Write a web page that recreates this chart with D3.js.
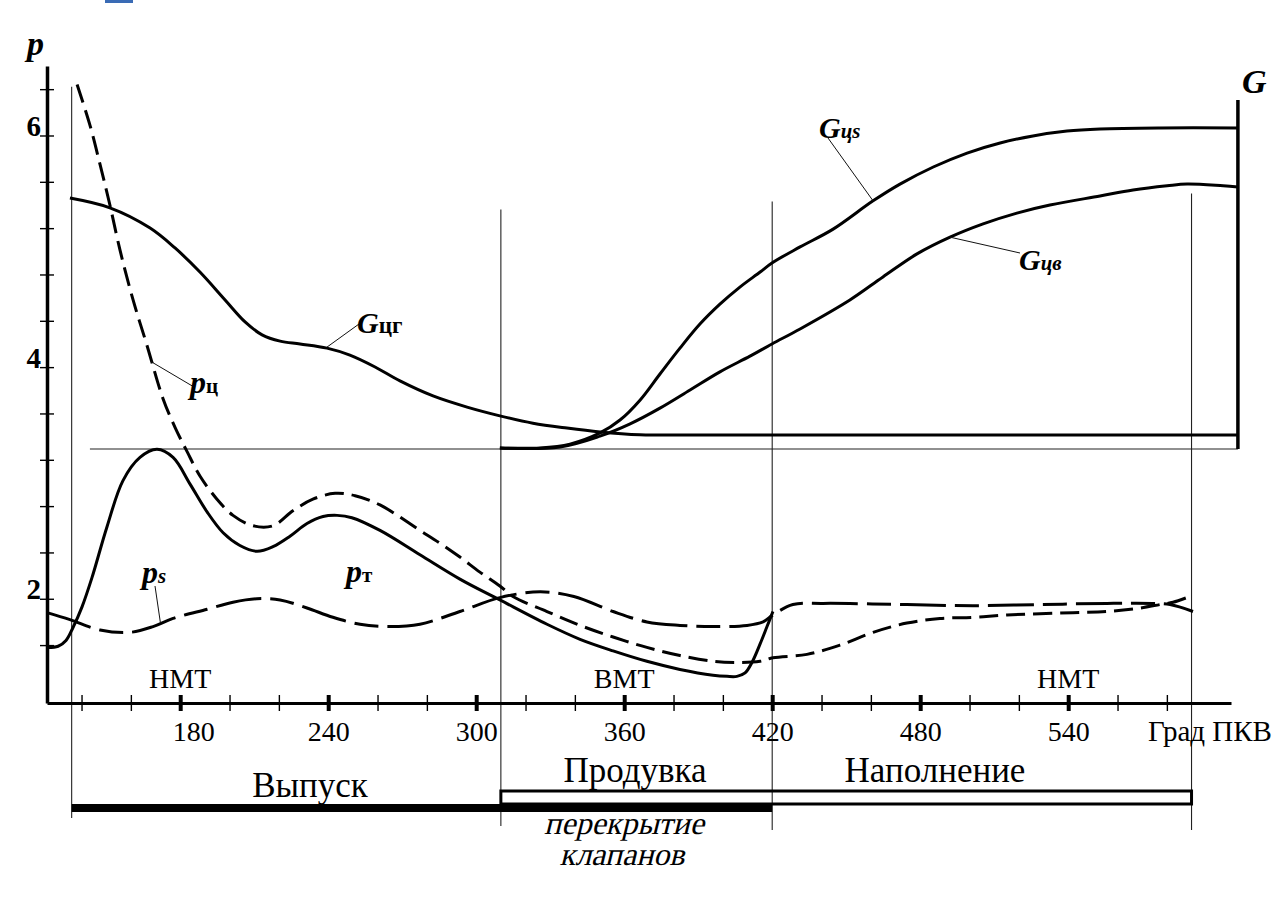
<!DOCTYPE html>
<html>
<head>
<meta charset="utf-8">
<script src="https://cdn.jsdelivr.net/npm/d3@7/dist/d3.min.js"></script>
<style>
  body { margin: 0; background: #fff; }
  svg { display: block; }
  text { font-family: "Liberation Serif", "Times New Roman", serif; fill: #000; }
</style>
</head>
<body>
<svg id="chart" width="1286" height="898"></svg>
<script>
// ---- crank angle (degrees) and pressures / flows ----
// cylinder pressure p_ц
const pCylAngle = [138.2, 143.4, 147.5, 151.5, 155.6, 160.9, 166.5, 173.0, 177.9, 182.8, 188.0, 194.9, 201.4, 209.5, 217.6, 225.7, 233.8, 242.8, 250.9, 261.0, 277.2, 285.3, 293.4, 301.5, 309.6, 314.9, 328.7, 342.1, 355.5, 369.2, 382.6, 396.0, 405.7, 415.1, 420.3, 434.1, 447.5, 460.9, 474.6, 488.0, 501.4, 515.2, 541.9, 555.7, 569.1, 577.2, 582.5, 590.6];
const pCyl      = [6.44, 6.09, 5.75, 5.40, 5.01, 4.58, 4.19, 3.73, 3.48, 3.27, 3.06, 2.86, 2.72, 2.63, 2.63, 2.76, 2.86, 2.91, 2.89, 2.81, 2.59, 2.48, 2.36, 2.23, 2.11, 2.02, 1.89, 1.77, 1.67, 1.58, 1.51, 1.46, 1.45, 1.46, 1.49, 1.52, 1.60, 1.71, 1.79, 1.83, 1.84, 1.86, 1.88, 1.89, 1.92, 1.95, 1.97, 2.03];

// exhaust manifold pressure p_т
const pExhAngle = [126.0, 130.5, 133.7, 136.5, 140.2, 144.2, 150.3, 156.8, 163.7, 170.6, 177.1, 184.0, 190.9, 197.4, 204.2, 211.1, 217.6, 224.5, 231.4, 237.9, 243.6, 249.6, 261.0, 277.2, 293.4, 309.6, 328.7, 342.1, 355.5, 369.2, 382.6, 396.0, 401.7, 405.7, 409.0, 411.8, 415.1, 417.9, 420.3];
const pExh      = [1.58, 1.59, 1.64, 1.75, 1.93, 2.18, 2.62, 3.02, 3.22, 3.29, 3.22, 2.99, 2.75, 2.57, 2.46, 2.41, 2.45, 2.54, 2.65, 2.71, 2.72, 2.70, 2.59, 2.38, 2.17, 1.99, 1.78, 1.65, 1.55, 1.46, 1.39, 1.34, 1.33, 1.33, 1.36, 1.45, 1.61, 1.76, 1.89];

// boost (intake) pressure p_s
const pBoostAngle = [126.0, 135.3, 147.5, 159.6, 169.0, 177.1, 190.9, 201.4, 211.1, 220.5, 231.4, 241.9, 252.9, 265.1, 277.2, 293.4, 309.6, 325.9, 339.6, 355.5, 369.2, 382.6, 396.0, 409.8, 416.3, 420.3, 428.4, 440.6, 474.6, 501.4, 528.6, 555.7, 574.4, 581.3, 590.6];
const pBoost      = [1.88, 1.82, 1.73, 1.71, 1.76, 1.83, 1.91, 1.97, 2.00, 1.99, 1.92, 1.84, 1.78, 1.76, 1.78, 1.89, 2.01, 2.06, 2.02, 1.89, 1.80, 1.77, 1.76, 1.77, 1.80, 1.86, 1.95, 1.96, 1.95, 1.94, 1.95, 1.96, 1.96, 1.95, 1.89];

// gas flow out of the cylinder G_цг
const gOutAngle = [135.3, 151.5, 167.8, 177.9, 188.0, 198.2, 206.3, 213.2, 220.5, 228.6, 239.5, 248.8, 259.0, 269.1, 282.5, 296.3, 309.6, 323.0, 336.8, 350.2, 366.4, 390.0, 450.0, 510.0, 570.0, 608.8];
const gOut      = [0.719, 0.691, 0.633, 0.576, 0.507, 0.427, 0.364, 0.327, 0.309, 0.301, 0.289, 0.269, 0.235, 0.195, 0.152, 0.120, 0.095, 0.074, 0.060, 0.049, 0.041, 0.040, 0.040, 0.040, 0.040, 0.040];

// charge flow into the cylinder G_цs
const gInAngle = [309.6, 325.9, 338.0, 350.2, 358.3, 366.4, 374.5, 382.6, 390.7, 398.8, 406.9, 415.1, 419.9, 431.3, 444.7, 460.9, 471.8, 485.3, 499.0, 512.4, 525.7, 539.5, 552.9, 577.2, 608.8];
const gIn      = [0.003, 0.003, 0.014, 0.046, 0.083, 0.140, 0.215, 0.289, 0.358, 0.415, 0.464, 0.507, 0.533, 0.579, 0.630, 0.711, 0.759, 0.808, 0.848, 0.877, 0.897, 0.911, 0.917, 0.920, 0.920];

// fresh air retained in the cylinder G_цв
const gAirAngle = [309.6, 334.0, 350.2, 362.4, 374.5, 386.7, 398.8, 411.0, 419.9, 431.3, 451.5, 464.9, 478.7, 492.1, 505.5, 519.2, 532.6, 552.9, 566.3, 580.1, 588.2, 602.8, 608.8];
const gAir      = [0.003, 0.006, 0.037, 0.072, 0.117, 0.169, 0.221, 0.266, 0.301, 0.344, 0.427, 0.493, 0.559, 0.607, 0.645, 0.676, 0.699, 0.725, 0.742, 0.754, 0.759, 0.754, 0.751];

// axis ticks
const xTicks = [140, 160, 180, 200, 220, 240, 260, 280, 300, 320, 340, 360, 380, 400, 420, 440, 460, 480, 500, 520, 540, 560, 580];
const xTickLabels = [180, 240, 300, 360, 420, 480, 540];
const yTicks = [1.6, 2.0, 2.4, 2.8, 3.2, 3.6, 4.0, 4.4, 4.8, 5.2, 5.6, 6.0, 6.4];
const yTickLabels = [2, 4, 6];

// valve event marks and phases
const markAngle = [136, 310, 420, 590];
const markTop   = [6.42, 5.36, 5.43, 5.50];
const deadCentres = [{ name: "НМТ", angle: 180 }, { name: "ВМТ", angle: 360 }, { name: "НМТ", angle: 540 }];
const exhaustPhase = [136, 420];
const intakePhase  = [310, 590];
const gAxisAngle = 608.8;

// ---- scales ----
const x  = d3.scaleLinear().domain([126, 606]).range([47, 1231]);
const yP = d3.scaleLinear().domain([1.1, 6.6]).range([703, 66]);
const yG = d3.scaleLinear().domain([0, 1]).range([449, 100]);

const serif = '"Liberation Serif", "Times New Roman", serif';
const svg = d3.select("#chart");

// small tab at the very top
svg.append("rect").attr("x", 105).attr("y", 0).attr("width", 28).attr("height", 3).attr("fill", "#3a6bb5");

// ---- thin guide lines ----
const guides = svg.append("g").attr("stroke", "#222").attr("stroke-width", 1.1);
const markBottom = [818, 826, 830, 830];
markAngle.forEach((a, i) => {
  guides.append("line")
    .attr("x1", x(a)).attr("x2", x(a))
    .attr("y1", yP(markTop[i])).attr("y2", markBottom[i]);
});
// zero line of the flow scale
guides.append("line")
  .attr("x1", x(143.4)).attr("x2", x(gAxisAngle))
  .attr("y1", yG(0)).attr("y2", yG(0));

// ---- axes ----
const xAxis = svg.append("g")
  .attr("transform", `translate(0,${yP.range()[0]})`)
  .call(d3.axisBottom(x).tickValues(xTicks)
    .tickFormat(d => xTickLabels.includes(d) ? d : "")
    .tickSizeOuter(0));
xAxis.select(".domain").attr("stroke", "#000").attr("stroke-width", 3);
xAxis.selectAll(".tick line")
  .attr("stroke", "#000")
  .attr("y1", -8).attr("y2", 8)
  .attr("stroke-width", d => xTickLabels.includes(d) ? 4 : 1.4);
xAxis.selectAll(".tick text")
  .attr("y", 38).attr("dy", 0)
  .attr("dx", d => d === 180 ? 13 : 0)
  .style("font-family", serif)
  .style("font-size", "28px")
  .attr("fill", "#000");
svg.append("text").attr("x", 1148).attr("y", 741)
  .style("font-size", "29px").text("Град ПКВ");

const yAxis = svg.append("g")
  .attr("transform", `translate(${x.range()[0]},0)`)
  .call(d3.axisLeft(yP).tickValues(yTicks)
    .tickFormat(d => yTickLabels.includes(d) ? d : "")
    .tickSizeOuter(0));
yAxis.select(".domain").attr("stroke", "#000").attr("stroke-width", 3.5);
yAxis.selectAll(".tick line")
  .attr("stroke", "#000").attr("stroke-width", 1.4)
  .attr("x1", -7).attr("x2", 7);
yAxis.selectAll(".tick text")
  .attr("x", -6).attr("dy", 0)
  .style("font-family", serif)
  .style("font-size", "29px").style("font-weight", "bold")
  .attr("fill", "#000");

// right-hand flow axis
svg.append("line")
  .attr("x1", x(gAxisAngle)).attr("x2", x(gAxisAngle))
  .attr("y1", yG(1)).attr("y2", yG(0))
  .attr("stroke", "#000").attr("stroke-width", 3.5);

svg.append("text").attr("x", 27).attr("y", 55)
  .style("font-size", "34px").style("font-weight", "bold").style("font-style", "italic").text("p");
svg.append("text").attr("x", 1242).attr("y", 93)
  .style("font-size", "34px").style("font-weight", "bold").style("font-style", "italic").text("G");

// ---- curves ----
function zip(a, v) { return a.map((d, i) => [d, v[i]]); }
const smooth = d3.curveCatmullRom.alpha(0.5);
const lineP = d3.line().x(d => x(d[0])).y(d => yP(d[1])).curve(smooth);
const lineG = d3.line().x(d => x(d[0])).y(d => yG(d[1])).curve(smooth);

const curves = svg.append("g").attr("fill", "none").attr("stroke", "#000")
  .attr("stroke-width", 3).attr("stroke-linejoin", "round");

curves.append("path").attr("d", lineG(zip(gOutAngle, gOut)));
curves.append("path").attr("d", lineG(zip(gInAngle, gIn)));
curves.append("path").attr("d", lineG(zip(gAirAngle, gAir)));
curves.append("path").attr("d", lineP(zip(pExhAngle, pExh)));
curves.append("path").attr("d", lineP(zip(pCylAngle, pCyl))).attr("stroke-dasharray", "19,8");
curves.append("path").attr("d", lineP(zip(pBoostAngle, pBoost))).attr("stroke-dasharray", "46,9,24,9");

// ---- curve labels with leaders ----
const leaders = svg.append("g").attr("stroke", "#111").attr("stroke-width", 1);
function leader(x1, y1, x2, y2) {
  leaders.append("line").attr("x1", x1).attr("y1", y1).attr("x2", x2).attr("y2", y2);
}
function curveLabel(px, py, main, sub, size, subItalic, subSize) {
  const t = svg.append("text").attr("x", px).attr("y", py)
    .style("font-weight", "bold");
  t.append("tspan").style("font-style", "italic").style("font-size", size + "px").text(main);
  t.append("tspan").style("font-style", subItalic ? "italic" : "normal")
    .style("font-size", subSize + "px").text(sub);
}

leader(x(239.5), yG(0.289) - 1, 359, 324);
curveLabel(357, 333, "G", "цг", 30, false, 23);

leader(x(460.9), yG(0.711), 828, 138);
curveLabel(819, 138, "G", "цs", 30, true, 21);

leader(x(492.1), yG(0.607), 1020, 253);
curveLabel(1019, 270, "G", "цв", 30, true, 21);

leader(x(168.0), yP(4.05), 194, 387);
curveLabel(190, 393, "p", "ц", 32, false, 21);

leader(x(172.0), yP(1.79), 155, 586);
curveLabel(142, 583, "p", "s", 32, true, 21);

curveLabel(346, 582, "p", "т", 32, false, 21);

// dead-centre labels
deadCentres.forEach(d => {
  svg.append("text").attr("x", x(d.angle)).attr("y", 688)
    .attr("text-anchor", "middle").style("font-family", serif)
    .style("font-size", "28px").text(d.name);
});

// ---- valve phase bars ----
svg.append("rect")
  .attr("x", x(intakePhase[0])).attr("y", 791)
  .attr("width", x(intakePhase[1]) - x(intakePhase[0])).attr("height", 13)
  .attr("fill", "none").attr("stroke", "#000").attr("stroke-width", 3);
svg.append("rect")
  .attr("x", x(exhaustPhase[0])).attr("y", 804)
  .attr("width", x(exhaustPhase[1]) - x(exhaustPhase[0])).attr("height", 8)
  .attr("fill", "#000");

svg.append("text").attr("x", 310).attr("y", 797).attr("text-anchor", "middle")
  .style("font-size", "35px").text("Выпуск");
svg.append("text").attr("x", 635).attr("y", 782).attr("text-anchor", "middle")
  .style("font-size", "35px").text("Продувка");
svg.append("text").attr("x", 935).attr("y", 782).attr("text-anchor", "middle")
  .style("font-size", "35px").text("Наполнение");

// slanted serif caption under the overlap interval
function slanted(cx, cy, str) {
  svg.append("text")
    .attr("transform", `translate(${cx},${cy}) skewX(-14)`)
    .attr("text-anchor", "middle")
    .style("font-family", serif)
    .style("font-size", "32px").text(str);
}
slanted(624, 834, "перекрытие");
slanted(622, 865, "клапанов");
</script>
</body>
</html>
